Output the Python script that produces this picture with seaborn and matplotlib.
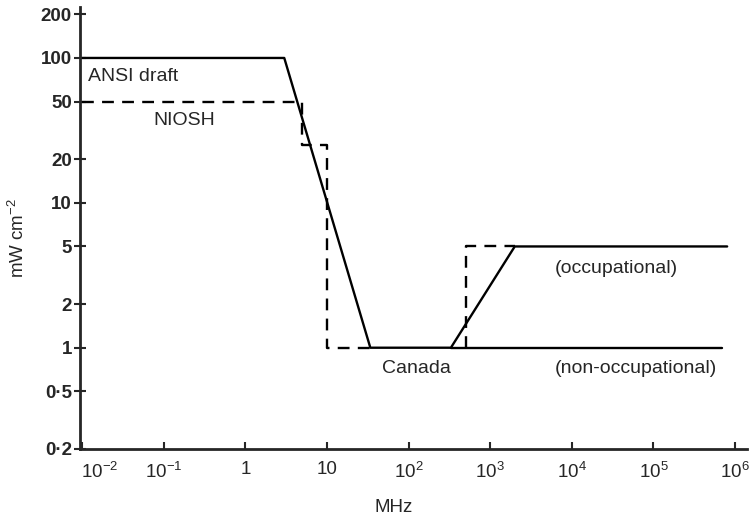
import matplotlib
matplotlib.use("Agg")
import matplotlib.pyplot as plt
import matplotlib.transforms as mtransforms
import seaborn as sns
import pandas as pd
import numpy as np

# --- data (MHz, mW cm^-2) ---
ansi_f = [0.01, 3, 34, 330, 2000, 8e5]
ansi_p = [100, 100, 1, 1, 5, 5]
canada_non_f = [330, 7e5]
canada_non_p = [1, 1]
niosh_f = [0.01, 5, 5, 10, 10, 34]
niosh_p = [50, 50, 25, 25, 1, 1]
canada_occ_f = [500, 500, 2000]
canada_occ_p = [1, 5, 5]

x_ticks = [1e-2, 1e-1, 1, 10, 1e2, 1e3, 1e4, 1e5, 1e6]
x_labels = [r"$10^{-2}$", r"$10^{-1}$", "1", "10", r"$10^{2}$", r"$10^{3}$",
            r"$10^{4}$", r"$10^{5}$", r"$10^{6}$"]
y_ticks = [0.2, 0.5, 1, 2, 5, 10, 20, 50, 100, 200]
y_labels = ["0·2", "0·5", "1", "2", "5", "10", "20", "50", "100", "200"]

sns.set_style("ticks")
plt.rcParams["font.family"] = ["Liberation Sans", "DejaVu Sans"]
plt.rcParams["mathtext.fontset"] = "custom"
plt.rcParams["mathtext.rm"] = "Liberation Sans"
plt.rcParams["mathtext.it"] = "Liberation Sans"
plt.rcParams["mathtext.bf"] = "Liberation Sans:bold"

fig = plt.figure(figsize=(7.5, 5.14), dpi=100)
ax = fig.add_axes([0.107, 0.1265, 0.889, 0.86])

def draw(f, p, dashed=False):
    df = pd.DataFrame({"f": f, "p": p})
    sns.lineplot(data=df, x="f", y="p", sort=False, estimator=None, ax=ax,
                 color="black", lw=1.7,
                 linestyle=(0, (5, 3.5)) if dashed else "-")

draw(ansi_f, ansi_p)
draw(canada_non_f, canada_non_p)
draw(niosh_f, niosh_p, dashed=True)
draw(canada_occ_f, canada_occ_p, dashed=True)

ax.set_xscale("log")
ax.set_yscale("log")
ax.set_xlim(0.0095, 1.4e6)
ax.set_ylim(0.2, 225)
ax.set_xticks(x_ticks)
ax.set_xticklabels(x_labels, fontsize=13.5)
ax.set_yticks(y_ticks)
ax.set_yticklabels(y_labels, fontsize=13.5, fontweight="bold")
ax.minorticks_off()
ax.tick_params(axis="x", direction="in", length=5, width=1.5, pad=9)
ax.tick_params(axis="y", direction="inout", length=8, width=1.5, pad=2)
# first x label sits to the right of the y axis in the reference
lbl0 = ax.get_xticklabels()[0]
lbl0.set_transform(lbl0.get_transform() +
                   mtransforms.ScaledTranslation(18 / 100, 0, fig.dpi_scale_trans))
sns.despine(ax=ax)
for s in ("left", "bottom"):
    ax.spines[s].set_linewidth(2)

ax.set_xlabel("")
ax.set_ylabel("")
fig.text(394 / 750, 1 - 507 / 514, "MHz", fontsize=13.5, ha="center", va="center")
fig.text(18 / 750, 1 - 238 / 514, r"mW cm$^{-2}$", fontsize=13.5,
         rotation=90, ha="center", va="center")

ax.text(0.0118, 75, "ANSI draft", fontsize=14, ha="left", va="center")
ax.text(0.18, 37, "NIOSH", fontsize=14, ha="center", va="center")
ax.text(124, 0.72, "Canada", fontsize=14, ha="center", va="center")
ax.text(6.2e3, 3.5, "(occupational)", fontsize=14, ha="left", va="center")
ax.text(6.2e3, 0.72, "(non-occupational)", fontsize=14, ha="left", va="center")

fig.savefig("out.png", dpi=100)
